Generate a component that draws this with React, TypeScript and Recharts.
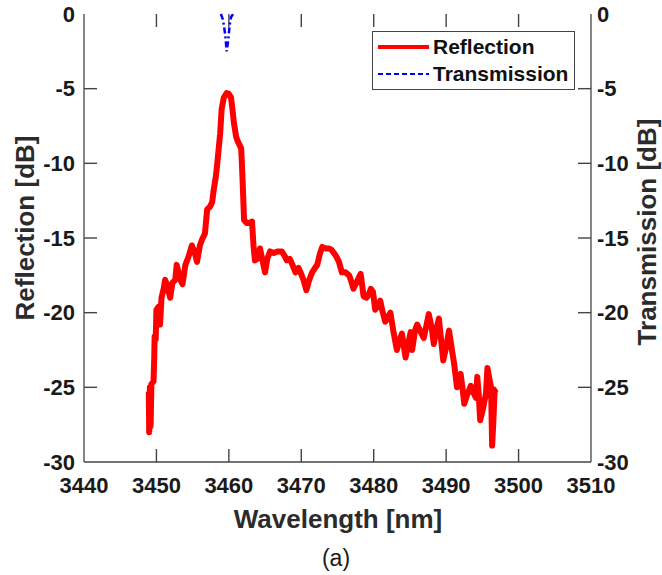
import { LineChart, Line, XAxis, YAxis } from 'recharts';

// reflection spectrum
const reflWavelength = [
    3448.95, 3449.0, 3449.1, 3449.2, 3449.3, 3449.6, 3449.7, 3449.75, 3449.9, 3450.0,
    3450.3, 3450.5, 3450.7, 3451.0, 3451.2, 3451.5, 3451.9, 3452.2, 3452.6, 3452.8,
    3453.0, 3453.3, 3453.6, 3454.0, 3454.4, 3454.9, 3455.3, 3455.6, 3456.0, 3456.3,
    3456.7, 3457.0, 3457.4, 3457.7, 3457.9, 3458.2, 3458.4, 3458.6, 3458.8, 3459.0,
    3459.3, 3459.7, 3460.0, 3460.3, 3460.5, 3460.7, 3461.0, 3461.2, 3461.5, 3461.7,
    3461.8, 3461.9, 3462.0, 3462.1, 3462.5, 3462.9, 3463.2, 3463.4, 3463.6, 3463.9,
    3464.3, 3464.6, 3465.0, 3465.3, 3465.7, 3466.2, 3466.7, 3467.3, 3467.7, 3468.0,
    3468.4, 3468.7, 3469.2, 3469.6, 3469.9, 3470.3, 3470.7, 3471.1, 3471.5, 3471.9,
    3472.2, 3472.6, 3472.9, 3473.4, 3473.8, 3474.2, 3474.5, 3474.9, 3475.2, 3475.6,
    3476.1, 3476.6, 3476.9, 3477.2, 3477.7, 3478.2, 3478.6, 3479.0, 3479.3, 3479.6,
    3479.9, 3480.2, 3480.5, 3480.9, 3481.2, 3481.6, 3482.0, 3482.3, 3482.7, 3483.2,
    3483.6, 3483.9, 3484.2, 3484.4, 3484.8, 3485.1, 3485.3, 3485.7, 3486.0, 3486.5,
    3486.9, 3487.3, 3487.6, 3488.0, 3488.3, 3488.7, 3489.0, 3489.3, 3489.6, 3490.0,
    3490.4, 3490.8, 3491.1, 3491.5, 3491.8, 3492.0, 3492.3, 3492.5, 3492.9, 3493.4,
    3493.8, 3494.1, 3494.3, 3494.5, 3494.7, 3495.1, 3495.5, 3495.7, 3496.0, 3496.2,
    3496.35, 3496.5, 3496.7, 3497.0,
];
const reflDb = [
    -25.3, -28.0, -25.0, -27.6, -24.8, -24.6, -23.0, -21.6, -21.8, -19.8,
    -19.6, -20.8, -19.0, -18.4, -17.8, -18.2, -19.0, -18.0, -17.8, -16.8,
    -17.2, -17.8, -18.1, -16.8, -16.3, -15.5, -16.0, -16.6, -15.5, -15.1,
    -14.7, -13.1, -12.9, -12.6, -11.8, -10.9, -10.0, -9.0, -8.0, -6.4,
    -5.6, -5.3, -5.35, -5.6, -6.4, -7.3, -8.2, -8.5, -8.8, -9.0,
    -10.0, -11.2, -12.5, -13.8, -14.0, -14.0, -13.9, -15.5, -16.5, -16.4,
    -15.7, -16.4, -17.3, -16.4, -15.9, -16.0, -15.9, -15.9, -16.2, -16.5,
    -16.4, -16.7, -17.3, -17.0, -17.3, -17.8, -18.5, -17.8, -17.3, -17.0,
    -16.8, -16.0, -15.6, -15.7, -15.7, -15.8, -16.0, -16.3, -16.6, -17.3,
    -17.3, -17.5, -17.9, -18.4, -17.9, -17.4, -18.9, -19.0, -18.8, -18.4,
    -18.6, -19.8, -19.6, -19.2, -19.9, -20.6, -20.3, -20.0, -21.2, -22.5,
    -21.8, -21.4, -22.4, -23.0, -22.0, -21.3, -22.5, -21.2, -20.8, -21.3,
    -21.7, -20.8, -20.1, -21.0, -22.1, -21.0, -20.4, -21.8, -23.2, -22.3,
    -21.2, -22.5, -23.4, -25.0, -24.3, -24.1, -25.2, -26.1, -25.5, -24.9,
    -25.4, -25.7, -24.3, -25.5, -27.2, -26.4, -25.4, -23.7, -24.5, -25.0,
    -28.9, -27.5, -25.2, -25.1,
];

// transmission dip
const transWavelength = [3458.9, 3459.2, 3459.5, 3459.7, 3459.9, 3460.1, 3460.3, 3460.6];
const transDb = [0, -0.4, -1.4, -2.5, -1.8, -0.8, -0.2, 0];

const xTicks = [3440, 3450, 3460, 3470, 3480, 3490, 3500, 3510];
const yTicks = [-30, -25, -20, -15, -10, -5, 0];

const X_MIN = 3440;
const X_MAX = 3510;
const Y_MIN = -30;
const Y_MAX = 0;

const reflectionData = reflWavelength.map((wl, i) => ({ wl, db: reflDb[i] }));
const transmissionData = transWavelength.map((wl, i) => ({ wl, db: transDb[i] }));

const FONT = "'Liberation Sans', Arial, Helvetica, sans-serif";
const AXIS = '#444444';
const TEXT = '#1a1a1a';

// inward tick length (~13px) in data units
const TICK_DY = 0.87;
const TICK_DX = 1.8;

// MATLAB-like box ticks, as short two-point segments on the chart scales
const tickSegments = [
    ...xTicks.slice(1, -1).map((t) => [{ wl: t, db: Y_MIN }, { wl: t, db: Y_MIN + TICK_DY }]),
    ...xTicks.slice(1, -1).map((t) => [{ wl: t, db: Y_MAX }, { wl: t, db: Y_MAX - TICK_DY }]),
    ...yTicks.slice(1, -1).map((t) => [{ wl: X_MIN, db: t }, { wl: X_MIN + TICK_DX, db: t }]),
    ...yTicks.slice(1, -1).map((t) => [{ wl: X_MAX, db: t }, { wl: X_MAX - TICK_DX, db: t }]),
];

const labelStyle = { fontSize: 22, fontWeight: 700, fill: TEXT, fontFamily: FONT };
const titleStyle = { fontSize: 26, fontWeight: 700, fill: '#2b2b2b', fontFamily: FONT };

function BottomTitles() {
    return (
        <g>
            <text x={338} y={528} textAnchor="middle" style={titleStyle}>Wavelength [nm]</text>
            <text x={336} y={566} textAnchor="middle" style={{ fontSize: 23, fill: TEXT, fontFamily: FONT }}>(a)</text>
        </g>
    );
}

function LeftTitle() {
    return (
        <text x={34} y={228} transform="rotate(-90 34 228)" textAnchor="middle" style={titleStyle}>
            Reflection [dB]
        </text>
    );
}

function RightTitle() {
    return (
        <text x={656} y={232} transform="rotate(-90 656 232)" textAnchor="middle" style={titleStyle}>
            Transmission [dB]
        </text>
    );
}

function LegendBox() {
    return (
        <div
            style={{
                position: 'absolute',
                left: 372,
                top: 31,
                width: 203,
                height: 59,
                border: `1px solid ${AXIS}`,
                background: '#fff',
                fontFamily: FONT,
                fontWeight: 700,
                fontSize: 21,
                color: '#111',
                boxSizing: 'border-box',
            }}
        >
            <svg width={60} height={57} style={{ position: 'absolute', left: 0, top: 0 }}>
                <line x1={5} x2={56} y1={15} y2={15} stroke="#ff0000" strokeWidth={4} />
                <line x1={5} x2={56} y1={42} y2={42} stroke="#0000ff" strokeWidth={2} strokeDasharray="5 3" />
            </svg>
            <div style={{ position: 'absolute', left: 60, top: 2, lineHeight: '26px' }}>Reflection</div>
            <div style={{ position: 'absolute', left: 60, top: 29, lineHeight: '26px' }}>Transmission</div>
        </div>
    );
}

export default function App() {
    return (
        <div style={{ position: 'absolute', left: 0, top: 0, width: 662, height: 575, background: '#fff' }}>
            <LineChart width={662} height={575} margin={{ top: 14, right: 0, bottom: 0, left: 0 }}>
                <XAxis
                    xAxisId="bottom"
                    dataKey="wl"
                    type="number"
                    domain={[X_MIN, X_MAX]}
                    ticks={xTicks}
                    interval={0}
                    height={113}
                    tickSize={0}
                    tickMargin={15}
                    tick={labelStyle}
                    tickLine={false}
                    axisLine={{ stroke: AXIS, strokeWidth: 1.3 }}
                    label={<BottomTitles />}
                />
                <XAxis
                    xAxisId="top"
                    orientation="top"
                    dataKey="wl"
                    type="number"
                    domain={[X_MIN, X_MAX]}
                    ticks={xTicks}
                    height={0}
                    tick={false}
                    tickLine={false}
                    axisLine={{ stroke: AXIS, strokeWidth: 1.3 }}
                />
                <YAxis
                    yAxisId="left"
                    domain={[Y_MIN, Y_MAX]}
                    ticks={yTicks}
                    interval={0}
                    width={84}
                    tickSize={0}
                    tickMargin={9}
                    tick={labelStyle}
                    tickLine={false}
                    axisLine={{ stroke: AXIS, strokeWidth: 1.3 }}
                    label={<LeftTitle />}
                />
                <YAxis
                    yAxisId="right"
                    orientation="right"
                    domain={[Y_MIN, Y_MAX]}
                    ticks={yTicks}
                    interval={0}
                    width={71}
                    tickSize={0}
                    tickMargin={6}
                    tick={labelStyle}
                    tickLine={false}
                    axisLine={{ stroke: AXIS, strokeWidth: 1.3 }}
                    label={<RightTitle />}
                />
                {tickSegments.map((seg, i) => (
                    <Line
                        key={`tick${i}`}
                        data={seg}
                        xAxisId="bottom"
                        yAxisId="left"
                        dataKey="db"
                        type="linear"
                        stroke={AXIS}
                        strokeWidth={1.4}
                        dot={false}
                        activeDot={false}
                        legendType="none"
                        isAnimationActive={false}
                    />
                ))}
                <Line
                    data={reflectionData}
                    xAxisId="bottom"
                    yAxisId="left"
                    dataKey="db"
                    type="linear"
                    stroke="#ff0000"
                    strokeWidth={6}
                    strokeLinejoin="round"
                    dot={false}
                    isAnimationActive={false}
                />
                <Line
                    data={transmissionData}
                    xAxisId="bottom"
                    yAxisId="right"
                    dataKey="db"
                    type="linear"
                    stroke="#0000ff"
                    strokeWidth={2.5}
                    strokeDasharray="6 3 2 3"
                    dot={false}
                    isAnimationActive={false}
                />
            </LineChart>
            <LegendBox />
        </div>
    );
}
